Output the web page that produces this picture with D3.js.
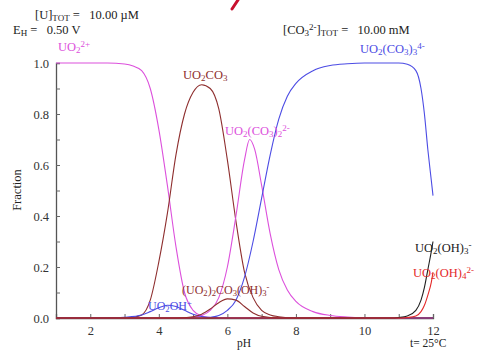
<!DOCTYPE html>
<html><head><meta charset="utf-8">
<script src="https://cdn.jsdelivr.net/npm/d3@7"></script>
<style>body{margin:0;background:#fff}svg{display:block}text{font-family:"Liberation Serif","DejaVu Serif",serif;white-space:pre}</style>
</head><body><svg id="c" width="486" height="351"></svg>
<script>
// ---- data (pH, fraction) ----
const uo2 = [[1,1],[2,1],[2.5,1],[3,0.996],[3.25,0.988],[3.5,0.97],[3.75,0.9],[4,0.74],[4.25,0.52],[4.5,0.28],[4.75,0.1],[5,0.03],[5.25,0.008],[5.5,0.002],[6,0],[12,0]];
const uo2co3 = [[1,0],[3,0],[3.25,0.003],[3.5,0.012],[3.75,0.07],[4,0.22],[4.25,0.41],[4.5,0.64],[4.75,0.8],[5,0.885],[5.25,0.915],[5.5,0.9],[5.75,0.82],[6,0.62],[6.25,0.38],[6.5,0.18],[6.75,0.08],[7,0.03],[7.25,0.012],[7.5,0.005],[8,0],[12,0]];
const uo2co32 = [[1,0],[4.75,0],[5,0.003],[5.25,0.01],[5.5,0.03],[5.75,0.08],[6,0.2],[6.25,0.4],[6.5,0.62],[6.65,0.7],[6.8,0.66],[7,0.52],[7.25,0.33],[7.5,0.19],[7.75,0.11],[8,0.065],[8.5,0.025],[9,0.01],[9.5,0.004],[10,0.001],[10.5,0],[12,0]];
const uo2co33 = [[1,0],[5.25,0],[5.5,0.003],[5.75,0.01],[6,0.03],[6.25,0.07],[6.5,0.16],[6.75,0.3],[7,0.47],[7.25,0.64],[7.5,0.78],[7.75,0.87],[8,0.92],[8.5,0.97],[9,0.99],[9.5,0.997],[10,1],[11,1],[11.25,0.995],[11.5,0.97],[11.65,0.9],[11.75,0.8],[11.85,0.66],[11.95,0.54],[12,0.48]];
const uo2oh = [[1,0],[2.5,0],[3,0.003],[3.5,0.012],[3.75,0.025],[4,0.04],[4.25,0.05],[4.5,0.045],[4.75,0.03],[5,0.015],[5.25,0.006],[5.5,0.002],[6,0],[12,0]];
const dimer = [[1,0],[4.5,0],[5,0.005],[5.25,0.015],[5.5,0.035],[5.75,0.06],[6,0.075],[6.25,0.07],[6.5,0.045],[6.75,0.02],[7,0.007],[7.5,0],[12,0]];
const uo2oh3 = [[1,0],[10.75,0],[11,0.002],[11.25,0.008],[11.5,0.03],[11.65,0.07],[11.75,0.12],[11.85,0.19],[11.95,0.26],[12,0.3]];
const uo2oh4 = [[1,0],[11,0],[11.25,0.002],[11.5,0.008],[11.65,0.025],[11.75,0.05],[11.85,0.09],[11.95,0.14],[12,0.18]];
const xTicks = [2,4,6,8,10,12];
const yTicks = [0,0.2,0.4,0.6,0.8,1.0];

const C = {mag:"#dc50dc", brown:"#8e2e2e", blue:"#4c4ce4", black:"#202020", red:"#e42a2a"};
const series = [
  {d:uo2, c:C.mag},{d:uo2co3, c:C.brown},{d:uo2co32, c:C.mag},{d:uo2co33, c:C.blue},
  {d:uo2oh, c:C.blue},{d:dimer, c:C.brown},{d:uo2oh3, c:C.black},{d:uo2oh4, c:C.red}
];

const svg = d3.select("#c");
const x = d3.scaleLinear().domain([1,12]).range([56,433]);
const y = d3.scaleLinear().domain([0,1]).range([318,63]);
const FS = 12.5;

// axes
const ax = svg.append("g").attr("transform","translate(0,318)")
  .call(d3.axisBottom(x).tickValues(d3.range(2,13,1)).tickSize(-4).tickFormat(d=>xTicks.includes(d)?d:"").tickPadding(8));
const ay = svg.append("g").attr("transform","translate(56,0)")
  .call(d3.axisLeft(y).tickValues(d3.range(0,1.0001,0.1)).tickSize(-4).tickPadding(7)
  .tickFormat(d=>yTicks.some(t=>Math.abs(t-d)<1e-6)?d3.format(".1f")(d):""));
[ax,ay].forEach(g=>{
  g.select(".domain").attr("stroke","#555").attr("stroke-width",1.3);
  g.selectAll(".tick line").attr("stroke","#666");
  g.selectAll(".tick text").attr("fill","#333").attr("font-size",FS).attr("font-family","Liberation Serif");
});

const line = d3.line().x(d=>x(d[0])).y(d=>y(d[1])).curve(d3.curveMonotoneX);
svg.append("g").selectAll("path").data(series).join("path")
  .attr("d",s=>line(s.d)).attr("fill","none").attr("stroke",s=>s.c).attr("stroke-width",1.1);

// rich text helper: segments [text, 'n'|'b'|'p']
function rich(xp, yp, segs, color, size){
  const fs = size||FS;
  const t = svg.append("text").attr("x",xp).attr("y",yp).attr("fill",color).attr("font-size",fs);
  segs.forEach(([s,k])=>{
    const ts = t.append("tspan").text(s);
    if(k==='b'){ ts.attr("font-size",fs*0.72).attr("baseline-shift","-25%"); }
    if(k==='p'){ ts.attr("font-size",fs*0.72).attr("baseline-shift","45%"); }
  });
  return t;
}
rich(35,19,[["[U]",'n'],["TOT",'b'],[" =   10.00 \u00b5M",'n']],"#222");
rich(13,34,[["E",'n'],["H",'b'],[" =   0.50 V",'n']],"#222");
rich(283,34,[["[CO",'n'],["3",'b'],["2-",'p'],["]",'n'],["TOT",'b'],[" =   10.00 mM",'n']],"#222");
rich(410,347,[["t= 25\u00b0C",'n']],"#222",11.5);
svg.append("text").attr("x",237).attr("y",347).attr("font-size",11.5).attr("fill","#222").text("pH");
svg.append("text").attr("transform","translate(21,190) rotate(-90)").attr("text-anchor","middle").attr("font-size",FS).attr("fill","#222").text("Fraction");

rich(58,51,[["UO",'n'],["2",'b'],["2+",'p']],C.mag);
rich(183,79,[["UO",'n'],["2",'b'],["CO",'n'],["3",'b']],C.brown);
rich(225,135,[["UO",'n'],["2",'b'],["(CO",'n'],["3",'b'],[")",'n'],["2",'b'],["2-",'p']],C.mag);
rich(360,53,[["UO",'n'],["2",'b'],["(CO",'n'],["3",'b'],[")",'n'],["3",'b'],["4-",'p']],C.blue);
rich(415,252,[["UO",'n'],["2",'b'],["(OH)",'n'],["3",'b'],["-",'p']],C.black);
rich(413,277,[["UO",'n'],["2",'b'],["(OH)",'n'],["4",'b'],["2-",'p']],C.red);
rich(182,294,[["(UO",'n'],["2",'b'],[")",'n'],["2",'b'],["CO",'n'],["3",'b'],["(OH)",'n'],["3",'b'],["-",'p']],C.brown,12);
rich(148,310,[["UO",'n'],["2",'b'],["OH",'n'],["+",'p']],C.blue,12);

// fragment of cut-off slide title
svg.append("path").attr("d","M238,0 L232,9").attr("stroke","#c8102e").attr("stroke-width",3).attr("stroke-linecap","round");
</script></body></html>
